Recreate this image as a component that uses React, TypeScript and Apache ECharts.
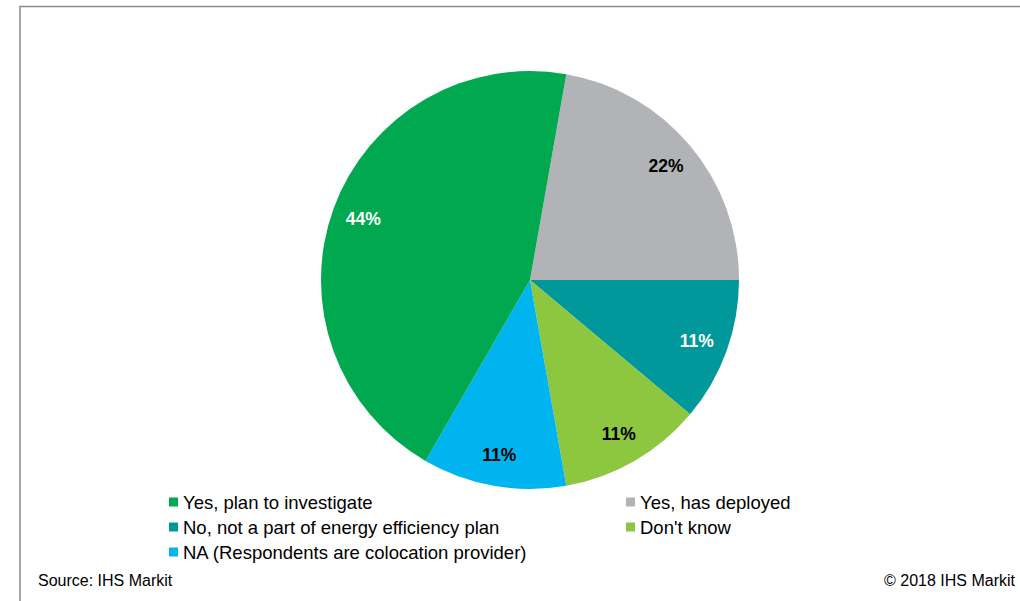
import React, { useEffect, useRef } from "react";
import * as echarts from "echarts";

const categories = [
  "Yes, has deployed",
  "No, not a part of energy efficiency plan",
  "Don't know",
  "NA (Respondents are colocation provider)",
  "Yes, plan to investigate",
];
const shares = [22.2, 11.1, 11.1, 11.1, 44.4];
const colors = ["#B1B3B6", "#00989A", "#8DC63F", "#00B5EF", "#00A94F"];
const labelColors = ["#000000", "#FFFFFF", "#000000", "#000000", "#FFFFFF"];
const legendLeftItems = [
  "Yes, plan to investigate",
  "No, not a part of energy efficiency plan",
  "NA (Respondents are colocation provider)",
];
const legendRightItems = ["Yes, has deployed", "Don't know"];
const sourceText = "Source: IHS Markit";
const copyrightText = "© 2018 IHS Markit";

const FONT = "'Liberation Sans', Arial, sans-serif";

export default function App() {
  const ref = useRef<HTMLDivElement>(null);
  useEffect(() => {
    if (!ref.current) return;
    const chart = echarts.init(ref.current, undefined, { renderer: "svg" });
    const data = categories.map((name, i) => ({
      name,
      value: shares[i],
      itemStyle: { color: colors[i] },
    }));
    const labelData = categories.map((name, i) => ({
      name,
      value: shares[i],
      itemStyle: { color: "rgba(0,0,0,0)" },
      label: { color: labelColors[i] },
    }));
    const legendCommon = {
      orient: "vertical" as const,
      itemWidth: 9,
      itemHeight: 9,
      icon: "rect",
      itemGap: 5,
      selectedMode: false,
      textStyle: { fontFamily: FONT, fontSize: 18.5, color: "#000", lineHeight: 20 },
    };
    chart.setOption({
      animation: false,
      backgroundColor: "#fff",
      legend: [
        { ...legendCommon, left: 164, top: 487, data: legendLeftItems },
        { ...legendCommon, left: 621, top: 487, data: legendRightItems },
      ],
      graphic: [
        {
          type: "polyline",
          shape: { points: [[20, 601], [20, 6.5], [1020, 6.5]] },
          style: { stroke: "#8a8a8a", lineWidth: 1.5, fill: "none" },
        },
        {
          type: "text",
          left: 38,
          top: 572,
          style: { text: sourceText, font: `16px ${FONT}`, fill: "#000" },
        },
        {
          type: "text",
          right: 5,
          top: 572,
          style: { text: copyrightText, font: `16px ${FONT}`, fill: "#000" },
        },
      ],
      series: [
        {
          type: "pie",
          center: [530, 280],
          radius: [0, 209],
          startAngle: 80,
          clockwise: true,
          data,
          label: { show: false },
          labelLine: { show: false },
          silent: true,
        },
        {
          type: "pie",
          center: [530, 280],
          radius: [140, 209],
          startAngle: 80,
          clockwise: true,
          data: labelData,
          silent: true,
          legendHoverLink: false,
          labelLine: { show: false },
          label: {
            show: true,
            position: "inside",
            fontFamily: FONT,
            fontSize: 17.5,
            fontWeight: "bold",
            formatter: (p: any) => `${Math.round(p.value)}%`,
          },
        },
      ],
    });
    return () => chart.dispose();
  }, []);
  return (
    <div
      ref={ref}
      style={{ position: "fixed", left: 0, top: 0, width: 1020, height: 601 }}
    />
  );
}
